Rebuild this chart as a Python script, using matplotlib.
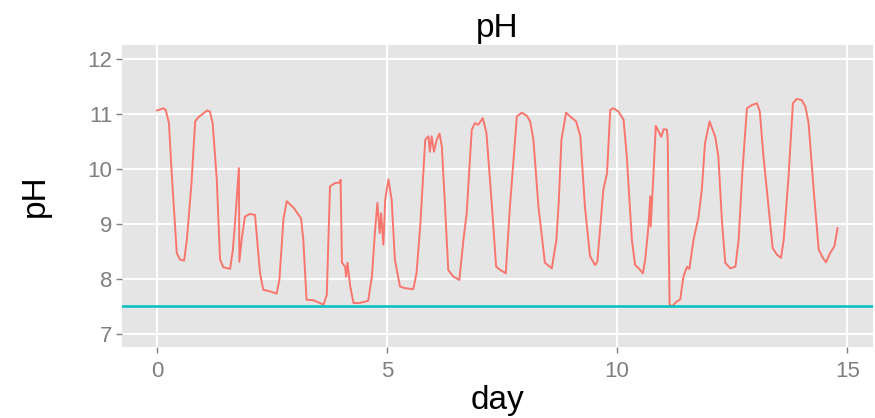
import matplotlib
matplotlib.use("Agg")
import matplotlib.pyplot as plt

day = [0.00, 0.14, 0.19, 0.26, 0.32, 0.43, 0.50, 0.59, 0.65, 0.75, 0.83, 0.90, 1.00, 1.09, 1.15,
       1.21, 1.30, 1.37, 1.44, 1.59, 1.65, 1.70, 1.78, 1.79, 1.84, 1.91, 2.02, 2.13, 2.24, 2.31,
       2.46, 2.60, 2.66, 2.75, 2.82, 2.97, 3.13, 3.18, 3.25, 3.40, 3.54, 3.62, 3.69, 3.76, 3.87,
       3.98, 3.99, 4.02, 4.09, 4.11, 4.14, 4.20, 4.27, 4.41, 4.59, 4.67, 4.74, 4.79, 4.84, 4.87,
       4.92, 4.96, 5.03, 5.10, 5.17, 5.28, 5.39, 5.57, 5.64, 5.72, 5.83, 5.90, 5.93, 5.97, 6.02,
       6.08, 6.14, 6.19, 6.26, 6.33, 6.44, 6.57, 6.66, 6.73, 6.84, 6.91, 6.98, 7.08, 7.16, 7.28,
       7.37, 7.46, 7.58, 7.67, 7.82, 7.93, 8.04, 8.11, 8.18, 8.29, 8.43, 8.58, 8.68, 8.73, 8.79,
       8.89, 8.98, 9.11, 9.20, 9.30, 9.41, 9.52, 9.57, 9.70, 9.78, 9.85, 9.92, 10.03, 10.14, 10.21,
       10.32, 10.39, 10.47, 10.56, 10.61, 10.68, 10.72, 10.73, 10.79, 10.84, 10.90, 10.96, 11.01,
       11.08, 11.10, 11.12, 11.14, 11.19, 11.30, 11.37, 11.44, 11.52, 11.57, 11.66, 11.77, 11.84,
       11.91, 12.01, 12.06, 12.13, 12.20, 12.28, 12.35, 12.46, 12.57, 12.64, 12.72, 12.82, 12.93,
       13.04, 13.10, 13.18, 13.29, 13.38, 13.47, 13.56, 13.62, 13.72, 13.82, 13.90, 14.01, 14.09,
       14.16, 14.27, 14.38, 14.47, 14.54, 14.63, 14.72, 14.79]

ph = [11.06, 11.10, 11.07, 10.83, 9.92, 8.47, 8.35, 8.33, 8.71, 9.74, 10.86, 10.94, 11.00, 11.06, 11.04,
      10.83, 9.80, 8.35, 8.21, 8.18, 8.53, 9.07, 10.01, 8.31, 8.71, 9.13, 9.18, 9.16, 8.10, 7.80,
      7.77, 7.73, 7.98, 9.10, 9.41, 9.29, 9.10, 8.71, 7.62, 7.61, 7.56, 7.53, 7.71, 9.68, 9.74,
      9.75, 9.80, 8.29, 8.22, 8.04, 8.29, 7.86, 7.56, 7.56, 7.60, 8.04, 8.89, 9.38, 8.83, 9.19,
      8.62, 9.44, 9.81, 9.44, 8.35, 7.86, 7.83, 7.81, 8.10, 8.95, 10.53, 10.59, 10.31, 10.59, 10.31,
      10.53, 10.64, 10.41, 9.31, 8.16, 8.04, 7.98, 8.71, 9.19, 10.71, 10.83, 10.80, 10.92, 10.65, 9.31,
      8.22, 8.16, 8.10, 9.31, 10.95, 11.02, 10.96, 10.86, 10.53, 9.31, 8.29, 8.19, 8.71, 9.38, 10.53,
      11.02, 10.95, 10.86, 10.59, 9.31, 8.41, 8.25, 8.31, 9.62, 9.92, 11.07, 11.10, 11.04, 10.89, 10.22,
      8.71, 8.25, 8.19, 8.10, 8.35, 8.95, 9.50, 8.95, 9.92, 10.78, 10.68, 10.58, 10.72,
      10.71, 10.53, 8.71, 7.53, 7.50, 7.59, 7.62, 8.04, 8.22, 8.18, 8.71, 9.13, 9.62,
      10.47, 10.86, 10.74, 10.59, 10.22, 9.01, 8.29, 8.19, 8.22, 8.71, 9.92, 11.10, 11.16,
      11.19, 11.04, 10.22, 9.31, 8.56, 8.44, 8.38, 8.71, 9.80, 11.19, 11.27, 11.25, 11.13,
      10.83, 9.62, 8.53, 8.38, 8.30, 8.47, 8.59, 8.92]

threshold = 7.5
x_ticks = [0, 5, 10, 15]
y_ticks = [7, 8, 9, 10, 11, 12]

plt.rcParams['font.family'] = ['Liberation Sans Narrow', 'Liberation Sans', 'DejaVu Sans']

fig = plt.figure(figsize=(8.75, 4.18), dpi=100)
ax = fig.add_axes([122/875, 1 - 347/418, (873 - 122)/875, (347 - 45)/418])
ax.set_facecolor('#E5E5E5')
for s in ax.spines.values():
    s.set_visible(False)

ax.set_xlim(-0.76, 15.56)
ax.set_ylim(6.76, 12.25)
ax.set_xticks(x_ticks)
ax.set_yticks(y_ticks)
ax.grid(True, color='white', linewidth=1.4)
ax.set_axisbelow(True)

ax.plot(day, ph, color='#F8766D', linewidth=1.4)
ax.axhline(threshold, color='#00BFC4', linewidth=1.8)

ax.tick_params(axis='both', colors='#7F7F7F', labelsize=16, length=4, width=1, pad=3)
ax.tick_params(axis='x', pad=6)
for lab in ax.get_xticklabels() + ax.get_yticklabels():
    lab.set_color('#7F7F7F')

ax.set_title('pH', fontsize=24, color='black', pad=6)
ax.set_xlabel('day', fontsize=24, color='black', labelpad=2)
ax.set_ylabel('pH', fontsize=24, color='black', labelpad=26)

fig.savefig('out.png', dpi=100)
